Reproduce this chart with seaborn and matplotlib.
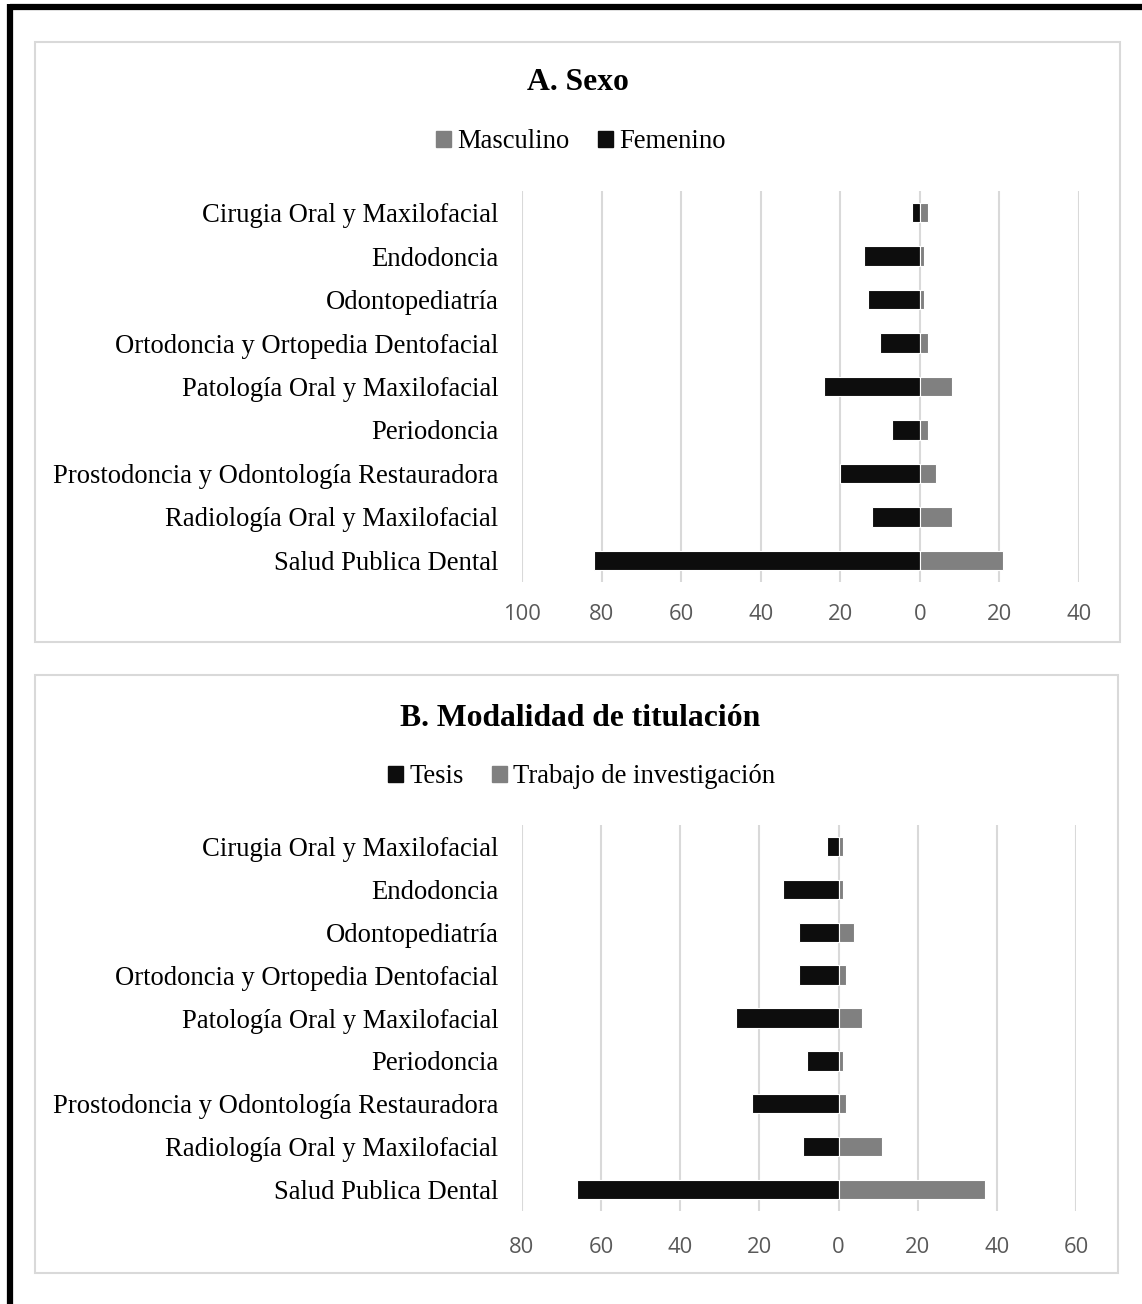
import numpy as np
import pandas as pd
import seaborn as sns
import matplotlib.pyplot as plt
from matplotlib.patches import Patch, Rectangle
from matplotlib.lines import Line2D

# especialidades (same order in both panels)
categorias = ["Cirugia Oral y Maxilofacial", "Endodoncia", "Odontopediatría",
              "Ortodoncia y Ortopedia Dentofacial", "Patología Oral y Maxilofacial",
              "Periodoncia", "Prostodoncia y Odontología Restauradora",
              "Radiología Oral y Maxilofacial", "Salud Publica Dental"]

# A. Sexo
femenino = [2, 14, 13, 10, 24, 7, 20, 12, 82]
masculino = [2, 1, 1, 2, 8, 2, 4, 8, 21]
ticks_a = [-100, -80, -60, -40, -20, 0, 20, 40]

# B. Modalidad de titulacion
tesis = [3, 14, 10, 10, 26, 8, 22, 9, 66]
trabajo = [1, 1, 4, 2, 6, 1, 2, 11, 37]
ticks_b = [-80, -60, -40, -20, 0, 20, 40, 60]

NEGRO = "#0d0d0d"
GRIS = "#808080"
GRID = "#d9d9d9"

sns.set_theme(style="white")
plt.rcParams["font.family"] = ["Liberation Serif", "DejaVu Serif"]
plt.rcParams["text.color"] = "black"

fig = plt.figure(figsize=(11.42, 13.04), dpi=100)
W, H = 1142, 1304


def fx(px):
    return px / W


def fy(py):
    return 1 - py / H


def panel(ax, left_vals, right_vals, ticks, pad):
    df = pd.DataFrame({"cat": categorias, "izq": [-v for v in left_vals], "der": right_vals})
    sns.barplot(data=df, x="izq", y="cat", color=NEGRO, width=0.45, ax=ax,
                edgecolor="white", linewidth=0.8, saturation=1)
    sns.barplot(data=df, x="der", y="cat", color=GRIS, width=0.45, ax=ax,
                edgecolor="white", linewidth=0.8, saturation=1)
    ax.set_xlim(ticks[0], ticks[-1])
    ax.set_ylim(8.5, -0.5)
    ax.set_xticks(ticks)
    ax.set_xticklabels([str(abs(t)) for t in ticks], fontfamily="Open Sans",
                       fontsize=15.8, color="#595959")
    ax.tick_params(axis="x", length=0, pad=pad)
    ax.tick_params(axis="y", length=0, pad=17, labelsize=19.2)
    for lab in ax.get_yticklabels():
        lab.set_color("black")
    ax.set_xlabel("")
    ax.set_ylabel("")
    ax.xaxis.grid(True, color=GRID, linewidth=1.5)
    ax.set_axisbelow(True)
    for s in ax.spines.values():
        s.set_visible(False)


ax_a = fig.add_axes([fx(522), fy(582), fx(1079 - 522), 391 / H])
panel(ax_a, femenino, masculino, ticks_a, 16)

ax_b = fig.add_axes([fx(522), fy(1211), fx(1076 - 522), 386 / H])
panel(ax_b, tesis, trabajo, ticks_b, 19)

# titles
fig.text(fx(578), fy(83), "A. Sexo", ha="center", va="center",
         fontsize=22.8, fontweight="bold")
fig.text(fx(580), fy(718), "B. Modalidad de titulación", ha="center", va="center",
         fontsize=22.8, fontweight="bold")

# legends
leg_kw = dict(loc="center", ncol=2, frameon=False, fontsize=19.2, handlelength=0.55,
              handleheight=0.55, handletextpad=0.25, columnspacing=1.05)
fig.legend(handles=[Patch(color=GRIS, label="Masculino"), Patch(color=NEGRO, label="Femenino")],
           bbox_to_anchor=(fx(581), fy(142)), **leg_kw)
fig.legend(handles=[Patch(color=NEGRO, label="Tesis"),
                    Patch(color=GRIS, label="Trabajo de investigación")],
           bbox_to_anchor=(fx(582), fy(777)), **leg_kw)

# panel frames
fig.add_artist(Rectangle((fx(35), fy(642)), fx(1120 - 35), 600 / H, transform=fig.transFigure,
                         fill=False, edgecolor=GRID, linewidth=1.5))
fig.add_artist(Rectangle((fx(35), fy(1273)), fx(1118 - 35), 598 / H, transform=fig.transFigure,
                         fill=False, edgecolor=GRID, linewidth=1.5))

# black outer border (top and left only)
fig.add_artist(Line2D([fx(10), 1], [fy(7), fy(7)], transform=fig.transFigure,
                      color="black", linewidth=4.5, solid_capstyle="butt"))
fig.add_artist(Line2D([fx(10), fx(10)], [fy(4), 0], transform=fig.transFigure,
                      color="black", linewidth=4.5, solid_capstyle="butt"))

fig.savefig("out.png", dpi=100)
